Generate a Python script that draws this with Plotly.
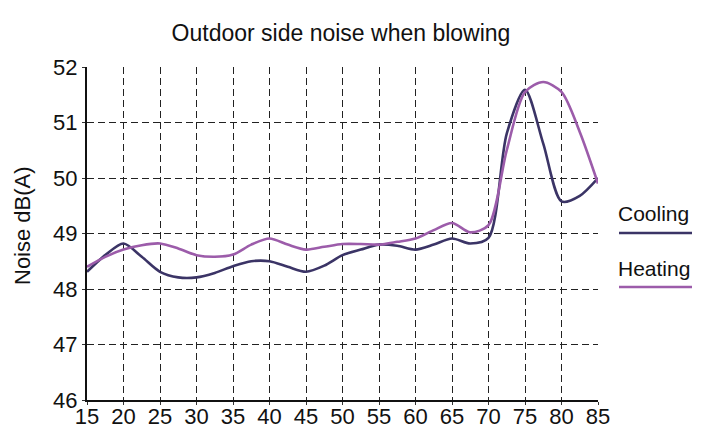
import plotly.graph_objects as go

x_vals = [15, 17.5, 20, 22.5, 25, 27.5, 30, 32.5, 35, 37.5, 40, 42.5, 45, 47.5, 50,
          52.5, 55, 57.5, 60, 62.5, 65, 67.5, 70, 72.5, 75, 77.5, 80, 82.5, 85]
cooling = [48.31, 48.61, 48.82, 48.58, 48.31, 48.21, 48.21, 48.29, 48.41, 48.50, 48.50, 48.40, 48.31, 48.42, 48.61,
           48.71, 48.80, 48.78, 48.71, 48.80, 48.91, 48.82, 48.92, 50.80, 51.59, 50.62, 49.58, 49.68, 50.00]
heating = [48.40, 48.58, 48.71, 48.79, 48.82, 48.73, 48.61, 48.58, 48.62, 48.80, 48.91, 48.80, 48.71, 48.76, 48.81,
           48.81, 48.80, 48.85, 48.91, 49.06, 49.19, 49.02, 49.15, 50.50, 51.55, 51.73, 51.55, 50.83, 49.90]

x_ticks = [15, 20, 25, 30, 35, 40, 45, 50, 55, 60, 65, 70, 75, 80, 85]
y_ticks = [46, 47, 48, 49, 50, 51, 52]

c_cool = "#3b3466"
c_heat = "#9c5caa"
font = "Liberation Sans, Arial, sans-serif"

fig = go.Figure()
fig.add_trace(go.Scatter(x=x_vals, y=cooling, mode="lines", name="Cooling",
                         line=dict(color=c_cool, width=2.6, shape="spline", smoothing=0.8)))
fig.add_trace(go.Scatter(x=x_vals, y=heating, mode="lines", name="Heating",
                         line=dict(color=c_heat, width=2.6, shape="spline", smoothing=0.8)))

axis_common = dict(showgrid=True, gridcolor="#222222", griddash="7px,4px", gridwidth=1,
                   zeroline=False, showline=True, linecolor="#111111", linewidth=2,
                   ticks="outside", ticklen=3, tickcolor="#333333", automargin=False,
                   tickfont=dict(family=font, size=22, color="#111111"))

fig.update_xaxes(range=[15, 85], tickvals=x_ticks, ticklabelstandoff=-7, **axis_common)
fig.update_yaxes(range=[46, 52], tickvals=y_ticks, **axis_common)

# plot area: left 87, top 67, width 511, height 333 (page coords)
PW, PH = 511.0, 333.0
fig.add_annotation(xref="paper", yref="paper", x=(22 - 87) / PW, y=1 - (226 - 67) / PH,
                   text="Noise dB(A)", showarrow=False, textangle=-90,
                   xanchor="center", yanchor="middle",
                   font=dict(family=font, size=22, color="#111111"))

for label, color, ty, ly in [("Cooling", c_cool, 214, 233), ("Heating", c_heat, 268, 287)]:
    fig.add_annotation(xref="paper", yref="paper", x=(616 - 87) / PW, y=1 - (ty - 67) / PH,
                       text=label, showarrow=False, xanchor="left", yanchor="middle",
                       font=dict(family=font, size=21, color="#111111"))
    fig.add_shape(type="line", xref="paper", yref="paper",
                  x0=(619 - 87) / PW, x1=(692 - 87) / PW,
                  y0=1 - (ly - 67) / PH, y1=1 - (ly - 67) / PH,
                  line=dict(color=color, width=2.6))

fig.update_layout(
    width=700, height=421,
    margin=dict(l=79, r=110, t=59, b=29, autoexpand=False),
    paper_bgcolor="white", plot_bgcolor="white",
    showlegend=False,
    title=dict(text="Outdoor side noise when blowing", x=333 / 700, xanchor="center",
               y=1 - 25 / 421, yanchor="middle",
               font=dict(family=font, size=23, color="#111111")),
)

fig.write_html("out.html")
